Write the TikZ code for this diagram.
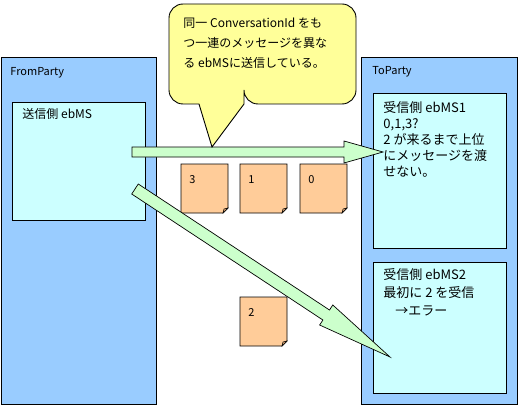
\documentclass[tikz,border=0pt]{standalone}
\usepackage{fontspec}
\setmainfont{Noto Sans CJK JP}
\definecolor{outerblue}{HTML}{99CCFF}
\definecolor{innercyan}{HTML}{CCFFFF}
\definecolor{calloutyellow}{HTML}{FFFF99}
\definecolor{arrowgreen}{HTML}{CCFFCC}
\definecolor{packetorange}{HTML}{FFCC99}
\definecolor{folddark}{HTML}{D9A070}
\newcommand\mypacket[4]{%
  \filldraw[fill=packetorange] (#2,#3) -- (#2+47,#3) -- (#2+47,#3+44) -- (#2+42,#3+49) -- (#2,#3+49) -- cycle;
  \filldraw[fill=folddark,line width=0.5pt] (#2+47,#3+44) -- (#2+43,#3+45) -- (#2+42,#3+49) -- cycle;
  \node[lbl, font=\fontsize{11}{11}\selectfont, anchor=west] (#1) at (#2+8,#3+16) {#4};
}
\begin{document}
\begin{tikzpicture}[x=1pt,y=-1pt,line width=0.9pt,
  outerbox/.style={draw, fill=outerblue, anchor=north west, inner sep=0},
  innerbox/.style={draw, fill=innercyan, anchor=north west, inner sep=0},
  blockarrow/.style={draw, fill=arrowgreen, line width=0.7pt, line join=miter},
  lbl/.style={inner sep=0, align=left}]
\useasboundingbox (0,0) rectangle (518,406);
\fill[white] (0,0) rectangle (518,406);
% parties
\node[outerbox, minimum width=155.5pt, minimum height=347pt] (fromparty) at (0.5,57) {};
\node[outerbox, minimum width=156pt, minimum height=347pt] (toparty) at (361,57) {};
\node[innerbox, minimum width=133pt, minimum height=118pt] (sender) at (12,102) {};
\node[innerbox, minimum width=133pt, minimum height=155pt] (recv1) at (373,93) {};
\node[innerbox, minimum width=133pt, minimum height=131pt] (recv2) at (373,262) {};
% packets
\mypacket{p3}{181}{164}{3}
\mypacket{p1}{240}{164}{1}
\mypacket{p0}{300}{164}{0}
\mypacket{p2}{240}{297}{2}
% block arrows
\path[blockarrow] (132,147) -- (344,147) -- (344,141) -- (383,152) -- (344,163) -- (344,157) -- (132,157) -- cycle;
\path[blockarrow] (138.3,184) -- (329.5,310) -- (332.8,305) -- (390,357) -- (319.6,325) -- (322.9,320) -- (131.7,194) -- cycle;
% callout
\filldraw[fill=calloutyellow] (169,60) [rounded corners=14pt] -- (169,4) -- (356,4) -- (356,104) -- (244,104) [sharp corners] -- (244,104) -- (212,147) -- (199,104) [rounded corners=14pt] -- (169,104) -- (169,60);
% texts
\node[lbl, font=\fontsize{11}{11}\selectfont, anchor=west] (fromlbl) at (10,73) {FromParty};
\node[lbl, font=\fontsize{11}{11}\selectfont, anchor=west] (tolbl) at (372,72) {ToParty};
\node[lbl, font=\fontsize{12}{12}\selectfont, anchor=west] (senderlbl) at (22,114) {送信側 ebMS};
\node[lbl, font=\fontsize{13}{16}\selectfont, anchor=north west] (recv1lbl) at (383,101) {受信側 ebMS1\\0,1,3?\\2 が来るまで上位\\にメッセージを渡\\せない。};
\node[lbl, font=\fontsize{13}{18}\selectfont, anchor=north west] (recv2lbl) at (383,268) {受信側 ebMS2\\最初に 2 を受信\\\hspace*{12pt}→エラー};
\node[lbl, font=\fontsize{12}{20}\selectfont, anchor=north west] (callouttext) at (183,17) {同一 ConversationId をも\\つ一連のメッセージを異な\\る ebMSに送信している。};
\end{tikzpicture}
\end{document}
